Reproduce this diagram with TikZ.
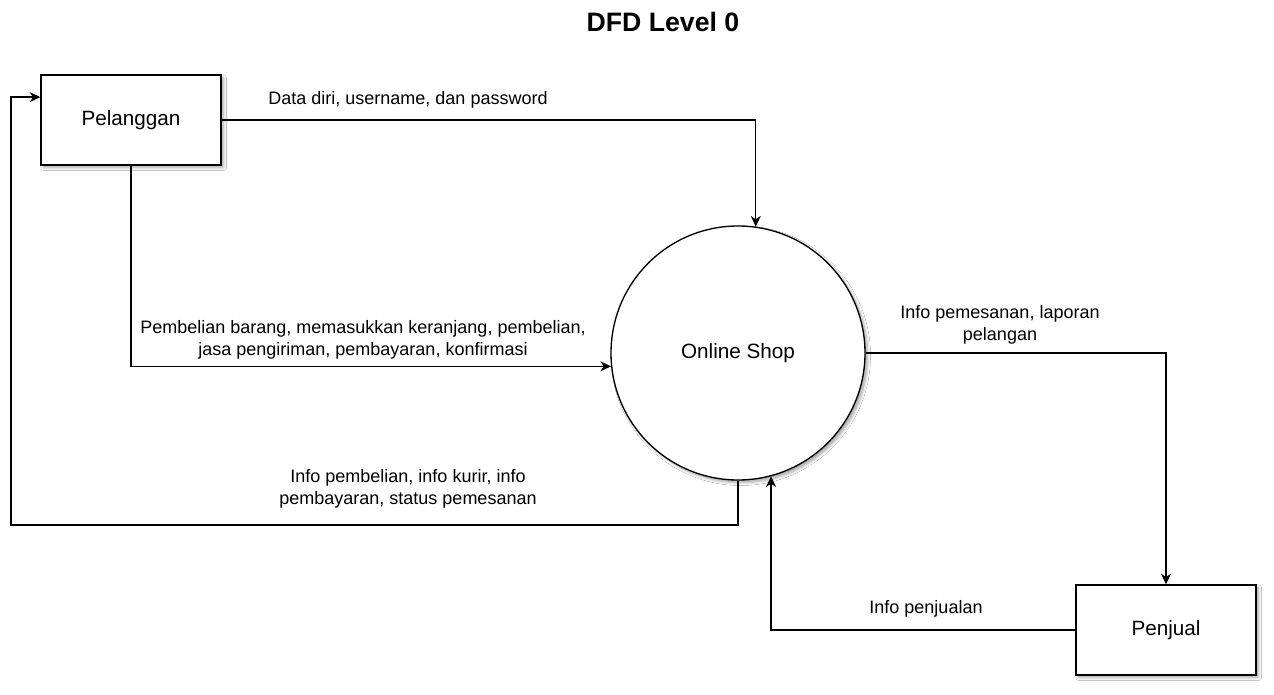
\documentclass[tikz,border=0pt]{standalone}
\usepackage{fontspec}
\setmainfont{Liberation Sans}
\usetikzlibrary{arrows.meta,calc,shadows.blur}
\tikzset{entity/.style={rectangle,draw,fill=white,line width=1pt,minimum width=135pt,minimum height=67.5pt,inner sep=0pt,font=\fontsize{15.5}{18}\selectfont,blur shadow={shadow xshift=2pt,shadow yshift=-2pt,shadow blur steps=6,shadow opacity=35}},process/.style={circle,draw,fill=white,line width=1pt,minimum size=190.5pt,inner sep=0pt,font=\fontsize{15.5}{18}\selectfont,blur shadow={shadow xshift=2pt,shadow yshift=-2pt,shadow blur steps=6,shadow opacity=35}},flow/.style={-{Stealth[length=8pt,width=7.5pt,inset=2.5pt]},line width=1pt},flowlabel/.style={font=\fontsize{13.5}{16.5}\selectfont,align=center,inner sep=0pt}}

\begin{document}
\begin{tikzpicture}[x=0.75pt,y=-0.75pt]
\path[use as bounding box,fill=white] (0,0) rectangle (1274,695);
\node[font=\bfseries\fontsize{20}{24}\selectfont] (title) at (663,22) {DFD Level 0};
\node[entity] (plg) at (131,120) {Pelanggan};
\node[process] (shop) at (738,353) {Online Shop};
\node[entity] (pjl) at (1166,630) {Penjual};
\coordinate (ret) at (11,525);
\coordinate (plgin) at ($(plg.north west)!.25!(plg.south west)$);
% alur data
\draw[flow] (plg.east) -| (shop.82);
\draw[flow] (plg.south) |- (shop.186);
\draw[flow] (shop.south) |- (ret) |- (plgin);
\draw[flow] (shop.east) -| (pjl.north);
\draw[flow] (pjl.west) -| (shop.285);
\node[flowlabel] (l1) at (408,100) {Data diri, username, dan password};
\node[flowlabel] (l2) at (363,340) {Pembelian barang, memasukkan keranjang, pembelian,\\jasa pengiriman, pembayaran, konfirmasi};
\node[flowlabel] (l3) at (408,489) {Info pembelian, info kurir, info\\pembayaran, status pemesanan};
\node[flowlabel] (l4) at (1000,325) {Info pemesanan, laporan\\pelangan};
\node[flowlabel] (l5) at (926,609) {Info penjualan};
\end{tikzpicture}
\end{document}
